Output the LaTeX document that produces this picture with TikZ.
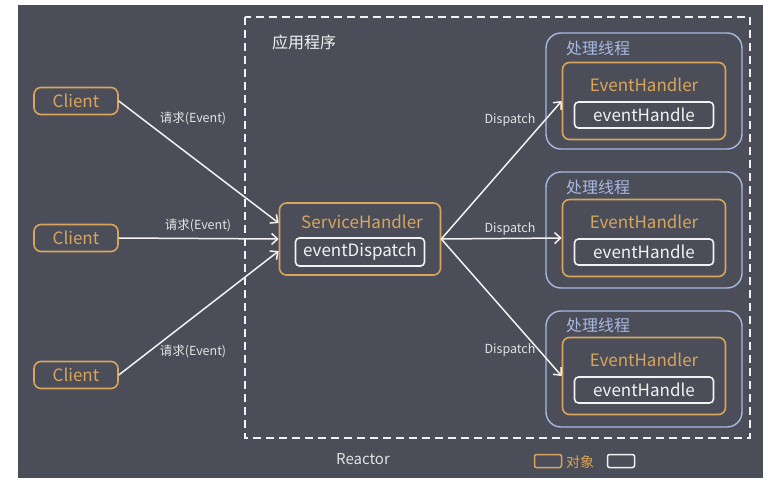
\documentclass[tikz,border=0pt]{standalone}
\usepackage{fontspec}
\setmainfont{Noto Sans CJK SC}
\usetikzlibrary{arrows.meta,calc}
\definecolor{bg}{HTML}{4B4E58}
\definecolor{org}{HTML}{D9A55C}
\definecolor{blu}{HTML}{A9B9E2}
\definecolor{wht}{HTML}{F2F2F2}
\definecolor{lbl}{HTML}{E2E2E2}
\tikzset{
  objbox/.style={draw=org, line width=1.6pt, rounded corners=7pt, inner sep=0pt},
  inbox/.style={draw=wht, line width=1.6pt, rounded corners=4pt, inner sep=0pt, text=wht, font=\fontsize{17}{17}\selectfont},
  thread/.style={draw=blu, line width=1.4pt, rounded corners=15pt, inner sep=0pt},
  ttl/.style={text=org, font=\fontsize{17}{17}\selectfont, inner sep=0pt},
  thtitle/.style={text=blu, font=\fontsize{16}{16}\selectfont, inner sep=0pt, anchor=west},
  elabel/.style={text=lbl, font=\fontsize{12.5}{13}\selectfont, inner sep=0pt},
  conn/.style={draw=wht, line width=1.5pt, -{Straight Barb[length=6pt,width=11pt,line width=1.5pt]}},
}
\begin{document}
\begin{tikzpicture}[x=1pt,y=-1pt]
\useasboundingbox (0,0) rectangle (781,492);
\fill[white] (0,0) rectangle (781,492);
\fill[bg] (18,5) rectangle (763,478);
% Reactor dashed frame
\draw[wht, line width=2pt, dash pattern=on 8pt off 5pt] (245,17) rectangle (750,438);
\node[text=wht, font=\fontsize{16}{16}\selectfont, inner sep=0pt] (app) at (304,42) {应用程序};
\node[text=lbl, font=\fontsize{15}{15}\selectfont, inner sep=0pt] (reactor) at (363,459) {Reactor};
% Clients
\foreach \i/\y in {1/101,2/238,3/375}{
  \node[objbox, minimum width=84pt, minimum height=27pt, text=org, font=\fontsize{17}{17}\selectfont] (c\i) at (76,\y) {Client};
}
% Service handler
\node[objbox, minimum width=161pt, minimum height=72pt] (sh) at (360,239) {};
\node[ttl] (shT) at (362,222) {ServiceHandler};
\node[inbox, minimum width=129pt, minimum height=28pt] (ed) at (360,252) {eventDispatch};
% Threads
\foreach \i/\y/\ty/\ey in {1/91/48/101, 2/230/187/238, 3/369/325/376}{
  \node[thread, minimum width=196pt, minimum height=116pt] (t\i) at (644,\y) {};
  \node[thtitle] (tt\i) at (566,\ty) {处理线程};
  \node[objbox, minimum width=163pt, minimum height=77pt] (eh\i) at (644,\ey) {};
  \node[ttl] (ehT\i) at (644,\ey-16) {EventHandler};
  \node[inbox, minimum width=139pt, minimum height=26pt] (h\i) at (644,\ey+14) {eventHandle};
}
% Client arrows
\draw[conn] (c1.east) -- ([yshift=16pt]sh.west);
\draw[conn] (c2.east) -- (sh.west);
\draw[conn] (c3.east) -- ([yshift=-12pt]sh.west);
\node[elabel] (l1) at (193,118) {请求(Event)};
\node[elabel] (l2) at (198,225) {请求(Event)};
\node[elabel] (l3) at (193,351) {请求(Event)};
% Dispatch arrows
\draw[conn] (sh.east) -- (eh1.west);
\draw[conn] (sh.east) -- (eh2.west);
\draw[conn] (sh.east) -- (eh3.west);
\node[elabel] (d1) at (510,120) {Dispatch};
\node[elabel] (d2) at (510,229) {Dispatch};
\node[elabel] (d3) at (510,350) {Dispatch};
% Legend
\node[draw=org, line width=1.5pt, rounded corners=2pt, minimum width=27pt, minimum height=13pt, inner sep=0pt] (lg1) at (548,461) {};
\node[text=org, font=\fontsize{14}{14}\selectfont, inner sep=0pt, anchor=west] (lgt) at (566,462) {对象};
\node[draw=wht, line width=1.5pt, rounded corners=2pt, minimum width=27pt, minimum height=13pt, inner sep=0pt] (lg2) at (621,461) {};
\end{tikzpicture}
\end{document}
